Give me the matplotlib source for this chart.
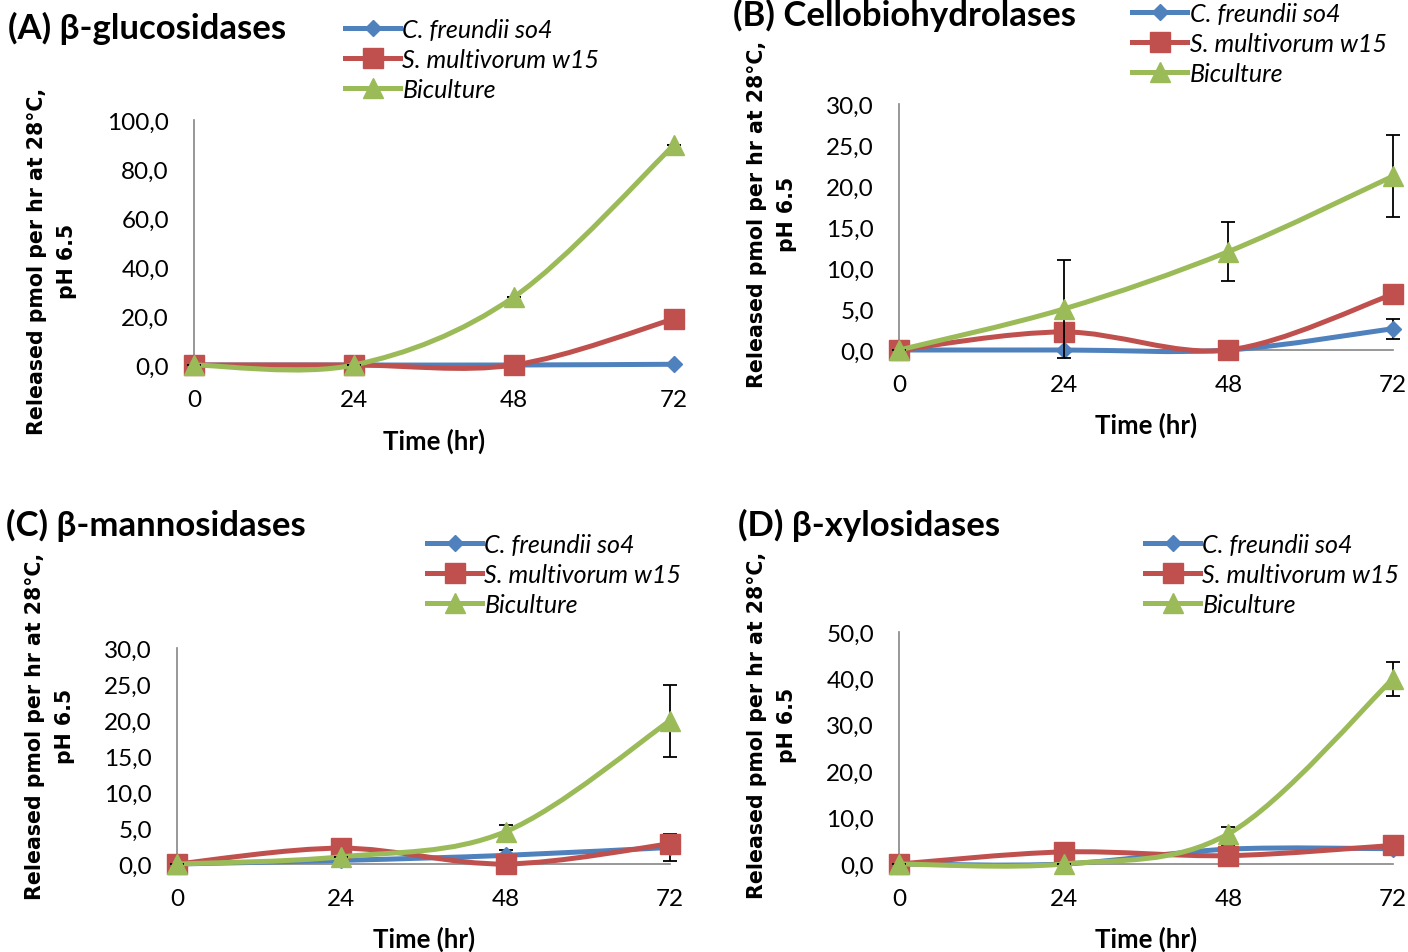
import numpy as np
import matplotlib
matplotlib.use('Agg')
import matplotlib.pyplot as plt
from matplotlib.path import Path
from matplotlib.patches import PathPatch
from matplotlib.lines import Line2D
from matplotlib.ticker import FuncFormatter

# time points (hr)
hours = [0, 24, 48, 72]
series_names = ['C. freundii so4', 'S. multivorum w15', 'Biculture']

# (A) beta-glucosidases
glu_cf = [0.0, 0.0, 0.0, 0.3]
glu_sm = [0.0, 0.0, 0.0, 18.8]
glu_bi = [0.0, 0.0, 27.8, 89.8]
glu_cf_err = [0.0, 0.0, 0.0, 0.3]
glu_sm_err = [0.0, 0.0, 0.0, 0.0]
glu_bi_err = [0.0, 0.0, 0.0, 0.0]

# (B) cellobiohydrolases
cel_cf = [0.0, 0.0, 0.0, 2.6]
cel_sm = [0.0, 2.2, 0.0, 6.8]
cel_bi = [0.0, 5.0, 12.0, 21.2]
cel_cf_err = [0.0, 0.0, 0.0, 1.2]
cel_sm_err = [0.0, 0.0, 0.0, 0.0]
cel_bi_err = [0.0, 6.0, 3.6, 5.0]

# (C) beta-mannosidases
man_cf = [0.0, 0.5, 1.2, 2.3]
man_sm = [0.0, 2.2, 0.0, 2.8]
man_bi = [0.0, 1.0, 4.5, 19.9]
man_cf_err = [0.0, 0.0, 0.8, 1.9]
man_sm_err = [0.0, 0.0, 0.0, 0.0]
man_bi_err = [0.0, 0.0, 0.9, 5.0]

# (D) beta-xylosidases
xyl_cf = [0.0, 0.0, 3.2, 3.3]
xyl_sm = [0.0, 2.6, 1.8, 4.0]
xyl_bi = [0.0, 0.0, 6.5, 39.9]
xyl_cf_err = [0.0, 0.0, 1.0, 0.0]
xyl_sm_err = [0.0, 0.0, 0.0, 0.0]
xyl_bi_err = [0.0, 0.0, 1.5, 3.6]

colors = ['#4F81BD', '#C0504D', '#9BBB59']
markers = ['D', 's', '^']
msizes = [8, 14, 15]

FONT = 'Lato'
W, H = 1408, 953


def smooth_path(x, y):
    # Excel-like smoothed line (Catmull-Rom as cubic Bezier)
    pts = np.column_stack([x, y]).astype(float)
    n = len(pts)
    verts = [pts[0]]
    codes = [Path.MOVETO]
    for i in range(n - 1):
        p0 = pts[i - 1] if i > 0 else pts[i]
        p1 = pts[i]
        p2 = pts[i + 1]
        p3 = pts[i + 2] if i + 2 < n else pts[i + 1]
        c1 = p1 + (p2 - p0) / 6.0
        c2 = p2 - (p3 - p1) / 6.0
        verts += [c1, c2, p2]
        codes += [Path.CURVE4] * 3
    return Path(verts, codes)


def comma_fmt(v, pos):
    return f'{v:.1f}'.replace('.', ',')


def panel(rect, ymax, ystep, data, errs, title, title_xy, ylab_xy, xlab_xy, leg_xy):
    # rect in pixels: left, y of zero line, width, height
    left, y0, w, h = rect
    ax = fig.add_axes([left / W, (H - y0) / H, w / W, h / H])
    ax.set_xlim(0, 72)
    ax.set_ylim(0, ymax)
    for s in ['top', 'right']:
        ax.spines[s].set_visible(False)
    ax.spines['left'].set_color('#868686')
    ax.spines['bottom'].set_color('#868686')
    ax.spines['left'].set_linewidth(1.2)
    ax.spines['bottom'].set_linewidth(1.2)
    ax.set_xticks(hours)
    ax.set_yticks(np.arange(0, ymax + 0.01, ystep))
    ax.yaxis.set_major_formatter(FuncFormatter(comma_fmt))
    ax.tick_params(length=0, labelsize=17.5)
    ax.tick_params(axis='x', pad=17)
    ax.tick_params(axis='y', pad=18)
    for lab in ax.get_xticklabels() + ax.get_yticklabels():
        lab.set_fontfamily(FONT)
    ax.patch.set_visible(False)

    for k in range(3):
        ax.add_patch(PathPatch(smooth_path(hours, data[k]), fill=False,
                               edgecolor=colors[k], lw=3.6, clip_on=False,
                               capstyle='round', zorder=3 + k))
        ax.errorbar(hours, data[k], yerr=errs[k], fmt='none', ecolor='black',
                    elinewidth=1.3, capsize=5, capthick=1.3, clip_on=False,
                    zorder=3 + k)
        ax.plot(hours, data[k], linestyle='none', marker=markers[k], ms=msizes[k],
                color=colors[k], mec=colors[k], clip_on=False, zorder=3 + k)

    fig.text(title_xy[0] / W, 1 - title_xy[1] / H, title, fontsize=25,
             fontweight='bold', family=FONT, ha='left', va='center')
    fig.text(ylab_xy[0] / W, 1 - ylab_xy[1] / H,
             'Released pmol per hr at 28°C,\npH 6.5', rotation=90,
             fontsize=14.8, fontweight='bold', family='DejaVu Sans',
             ha='center', va='center', multialignment='center', linespacing=1.65)
    fig.text(xlab_xy[0] / W, 1 - xlab_xy[1] / H, 'Time (hr)', fontsize=18.5,
             fontweight='bold', family=FONT, ha='center', va='center')

    handles = [Line2D([], [], color=colors[k], lw=3.6, marker=markers[k],
                      ms=msizes[k]) for k in range(3)]
    ax.legend(handles, series_names, loc='upper left',
              bbox_to_anchor=(leg_xy[0] / W, 1 - leg_xy[1] / H),
              bbox_transform=fig.transFigure, frameon=False,
              prop={'family': FONT, 'style': 'italic', 'size': 18},
              handlelength=2.2, handletextpad=0.1, labelspacing=0.28,
              borderpad=0, borderaxespad=0)
    return ax


fig = plt.figure(figsize=(W / 100, H / 100), dpi=100)

panel((194, 366, 480, 245), 100, 20,
      [glu_cf, glu_sm, glu_bi], [glu_cf_err, glu_sm_err, glu_bi_err],
      '(A) β-glucosidases', (8, 28), (52, 261), (434, 441), (345, 19))
panel((899, 351, 494, 246), 30, 5,
      [cel_cf, cel_sm, cel_bi], [cel_cf_err, cel_sm_err, cel_bi_err],
      '(B) Cellobiohydrolases', (733, 15), (772, 214), (1146, 425), (1132, 3))
panel((177, 865, 493, 216), 30, 5,
      [man_cf, man_sm, man_bi], [man_cf_err, man_sm_err, man_bi_err],
      '(C) β-mannosidases', (6, 525), (50, 726), (424, 939), (427, 534))
panel((899, 865, 494, 232), 50, 10,
      [xyl_cf, xyl_sm, xyl_bi], [xyl_cf_err, xyl_sm_err, xyl_bi_err],
      '(D) β-xylosidases', (738, 525), (772, 725), (1146, 939), (1145, 534))

fig.savefig('out.png', dpi=100)
